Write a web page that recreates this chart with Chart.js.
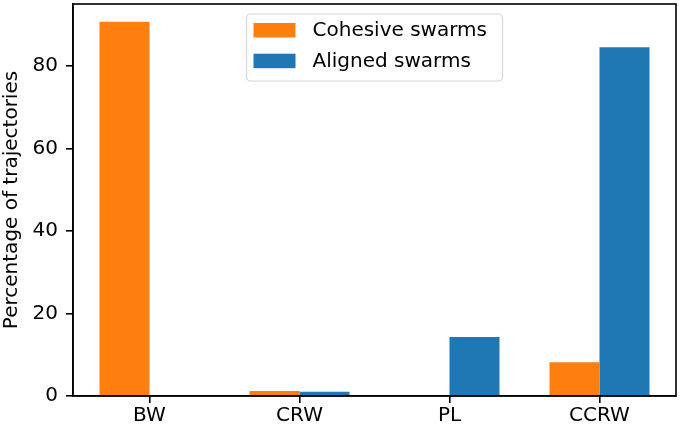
<!DOCTYPE html>
<html>
<head>
<meta charset="utf-8">
<script src="https://cdn.jsdelivr.net/npm/chart.js@4/dist/chart.umd.min.js"></script>
<style>
  html, body { margin: 0; padding: 0; background: #fff; }
  #wrap { width: 681px; height: 429px; }
</style>
</head>
<body>
<div id="wrap"><canvas id="chart" width="681" height="429"></canvas></div>
<script>
// data
const categories = ['BW', 'CRW', 'PL', 'CCRW'];
const cohesiveSwarms = [90.7, 1.2, 0, 8.2];
const alignedSwarms = [0, 1.0, 14.3, 84.5];
const yTickValues = [0, 20, 40, 60, 80];

const FONT = 'DejaVu Sans';
const FONT_SIZE = 20;

// bars sit on a numeric x axis (category index) so the side margins match matplotlib
const toPoints = values => values.map((y, i) => ({ x: i, y }));

// matplotlib-like closed frame around the plot area
const framePlugin = {
    id: 'frame',
    afterDatasetsDraw(chart) {
        const { ctx, chartArea: a } = chart;
        ctx.save();
        ctx.strokeStyle = '#000';
        ctx.lineWidth = 1.6;
        ctx.strokeRect(a.left, a.top, a.right - a.left, a.bottom - a.top);
        ctx.restore();
    }
};

// legend box at upper center, inside the axes
const boxLegend = {
    id: 'boxLegend',
    afterDraw(chart) {
        const { ctx, chartArea: a } = chart;
        const w = 256, h = 67;
        const x = (a.left + a.right) / 2 - w / 2;
        const y = a.top + 10;
        ctx.save();
        ctx.beginPath();
        ctx.roundRect(x, y, w, h, 4);
        ctx.fillStyle = 'rgba(255,255,255,0.8)';
        ctx.fill();
        ctx.strokeStyle = '#d6d6d6';
        ctx.lineWidth = 1.2;
        ctx.stroke();
        ctx.font = FONT_SIZE + 'px "' + FONT + '"';
        ctx.textBaseline = 'middle';
        chart.data.datasets.forEach((ds, i) => {
            const ry = y + 9 + i * 30.7;
            ctx.fillStyle = ds.backgroundColor;
            ctx.fillRect(x + 7, ry, 42, 14.5);
            ctx.fillStyle = '#000';
            ctx.fillText(ds.label, x + 66, ry + 8);
        });
        ctx.restore();
    }
};

new Chart(document.getElementById('chart'), {
    type: 'bar',
    data: {
        datasets: [
            { label: 'Cohesive swarms', data: toPoints(cohesiveSwarms), backgroundColor: '#ff7f0e' },
            { label: 'Aligned swarms', data: toPoints(alignedSwarms), backgroundColor: '#1f77b4' }
        ]
    },
    options: {
        responsive: false,
        animation: false,
        devicePixelRatio: 1,
        layout: { padding: { top: 4, right: 5, left: 0, bottom: 0 } },
        datasets: {
            bar: { categoryPercentage: 2 / 3, barPercentage: 1, borderWidth: 0 }
        },
        plugins: {
            legend: { display: false },
            tooltip: { enabled: false }
        },
        scales: {
            x: {
                type: 'linear',
                offset: false,
                min: -0.51,
                max: 3.51,
                afterBuildTicks(scale) {
                    scale.ticks = categories.map((c, i) => ({ value: i }));
                },
                grid: {
                    offset: false,
                    drawOnChartArea: false,
                    drawTicks: true,
                    tickLength: 7,
                    color: '#000',
                    lineWidth: 1.6
                },
                border: { display: true, color: '#000', width: 1.6 },
                ticks: {
                    color: '#000',
                    font: { family: FONT, size: FONT_SIZE },
                    padding: 1,
                    callback: v => categories[v]
                },
                afterFit(scale) {
                    scale.height = 33;
                    scale.paddingLeft = 0;
                    scale.paddingRight = 0;
                }
            },
            y: {
                min: 0,
                max: 95,
                afterBuildTicks(scale) {
                    scale.ticks = yTickValues.map(v => ({ value: v }));
                },
                grid: {
                    drawOnChartArea: false,
                    drawTicks: true,
                    tickLength: 7,
                    color: '#000',
                    lineWidth: 1.6
                },
                border: { display: true, color: '#000', width: 1.6 },
                ticks: { color: '#000', font: { family: FONT, size: FONT_SIZE }, padding: 8 },
                title: {
                    display: true,
                    text: 'Percentage of trajectories',
                    color: '#000',
                    font: { family: FONT, size: FONT_SIZE },
                    padding: { top: 0, bottom: 4 }
                },
                afterFit(scale) {
                    scale.width = 73;
                    scale.paddingTop = 0;
                    scale.paddingBottom = 0;
                }
            }
        }
    },
    plugins: [framePlugin, boxLegend]
});
</script>
</body>
</html>
